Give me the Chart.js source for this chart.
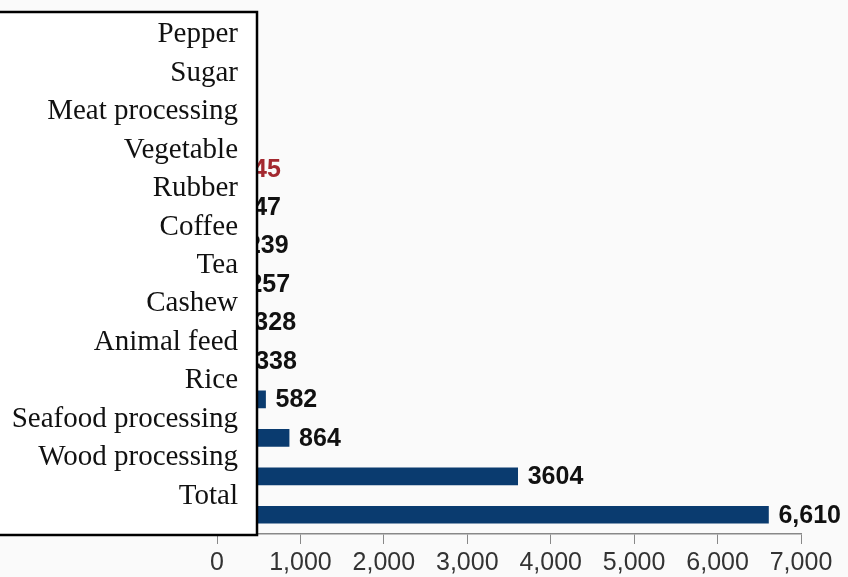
<!DOCTYPE html>
<html>
<head>
<meta charset="utf-8">
<script src="https://cdn.jsdelivr.net/npm/chart.js@4"></script>
<style>
  body { margin: 0; background: #fafafa; }
</style>
</head>
<body>
<canvas id="myChart" width="848" height="577"></canvas>
<script>
const categories = ['Pepper', 'Sugar', 'Meat processing', 'Vegetable', 'Rubber', 'Coffee', 'Tea',
  'Cashew', 'Animal feed', 'Rice', 'Seafood processing', 'Wood processing', 'Total'];
const values = [6, 20, 10, 145, 147, 239, 257, 328, 338, 582, 864, 3604, 6610];
const valueLabels = ['6', '20', '10', '145', '147', '239', '257', '328', '338', '582', '864', '3604', '6,610'];
const labelColors = ['#111', '#111', '#111', '#a3282f', '#111', '#111', '#111', '#111', '#111', '#111', '#111', '#111', '#111'];
const xTickLabels = ['0', '1,000', '2,000', '3,000', '4,000', '5,000', '6,000', '7,000'];

const ctx = document.getElementById('myChart').getContext('2d');

// light grey page behind everything
const bgPlugin = {
  id: 'bg',
  beforeDraw(chart) {
    const c = chart.ctx;
    c.save();
    c.fillStyle = '#fafafa';
    c.fillRect(0, 0, chart.width, chart.height);
    c.restore();
  }
};

// numbers at the end of each bar
const valuePlugin = {
  id: 'values',
  afterDatasetsDraw(chart) {
    const c = chart.ctx;
    const meta = chart.getDatasetMeta(0);
    c.save();
    c.font = 'bold 25px "Liberation Sans", Arial, sans-serif';
    c.textBaseline = 'middle';
    c.textAlign = 'left';
    meta.data.forEach((bar, i) => {
      c.fillStyle = labelColors[i];
      c.fillText(valueLabels[i], bar.x + 10, bar.y + 1);
    });
    c.restore();
  }
};

// white box with the category names, laid over the left of the plot
const boxPlugin = {
  id: 'catBox',
  afterDraw(chart) {
    const c = chart.ctx;
    const area = chart.chartArea;
    const meta = chart.getDatasetMeta(0);
    const right = area.left + 40;
    const top = area.top - 22;
    const bottom = area.bottom + 1;
    c.save();
    c.fillStyle = '#ffffff';
    c.fillRect(-5, top, right + 5, bottom - top);
    c.strokeStyle = '#000';
    c.lineWidth = 2.5;
    c.strokeRect(-5, top, right + 5, bottom - top);
    c.font = '29px "Liberation Serif", "Times New Roman", serif';
    c.fillStyle = '#111';
    c.textAlign = 'right';
    c.textBaseline = 'alphabetic';
    meta.data.forEach((bar, i) => {
      c.fillText(categories[i], right - 19, bar.y - 11);
    });
    c.restore();
  }
};

const chart = new Chart(ctx, {
  type: 'bar',
  data: {
    labels: categories,
    datasets: [{
      data: values,
      backgroundColor: '#0a3b6f',
      borderWidth: 0,
      barThickness: 17
    }]
  },
  options: {
    indexAxis: 'y',
    responsive: false,
    animation: false,
    layout: {
      padding: { left: 217, right: 47, top: 34, bottom: 0 }
    },
    scales: {
      x: {
        min: 0,
        max: 7000,
        ticks: {
          stepSize: 1000,
          autoSkip: false,
          maxRotation: 0,
          padding: 4,
          color: '#333',
          font: { family: '"Liberation Sans", Arial, sans-serif', size: 25 },
          callback: (v, i) => xTickLabels[i]
        },
        grid: {
          drawOnChartArea: false,
          drawTicks: true,
          tickLength: 10,
          color: '#888'
        },
        border: { display: true, color: '#888', width: 1.5 },
        afterFit(scale) { scale.height = 43; }
      },
      y: {
        display: false
      }
    },
    plugins: {
      legend: { display: false },
      tooltip: { enabled: false }
    }
  },
  plugins: [bgPlugin, valuePlugin, boxPlugin]
});
</script>
</body>
</html>
